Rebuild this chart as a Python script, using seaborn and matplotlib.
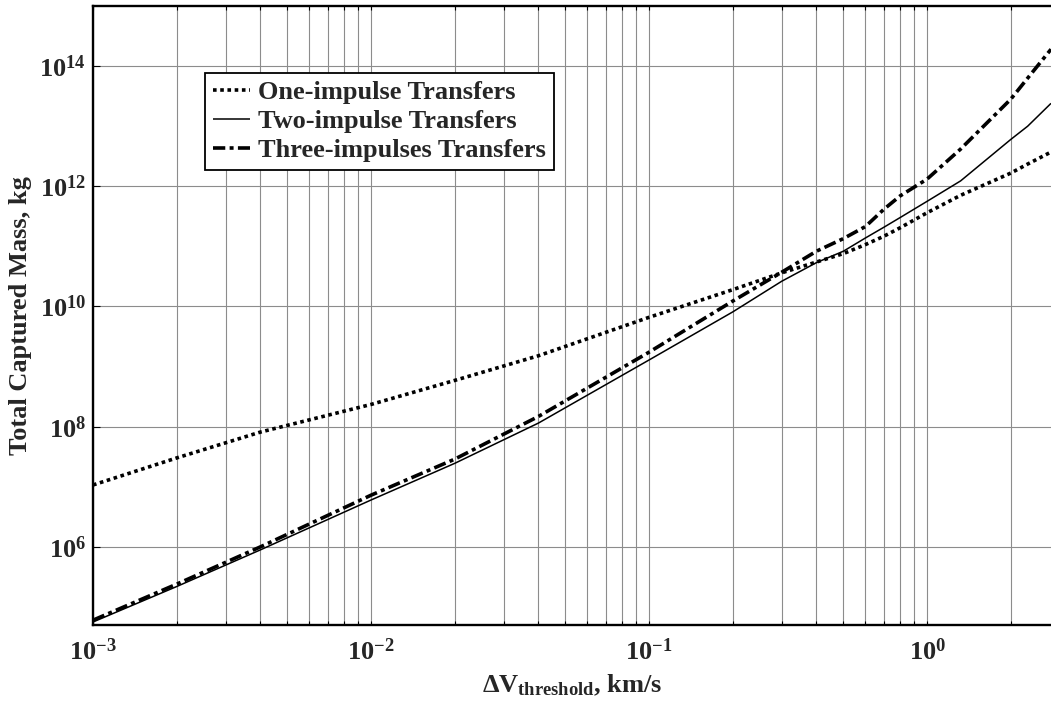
import numpy as np
import pandas as pd
import matplotlib
matplotlib.use("Agg")
import matplotlib.pyplot as plt
import seaborn as sns
from matplotlib.ticker import FixedLocator, NullLocator, NullFormatter

# ---- data (log10 of mass in kg) ----
dv = [0.001, 0.002, 0.004, 0.01, 0.02, 0.04, 0.1, 0.2, 0.3, 0.4, 0.5, 0.6,
      0.7, 0.8, 1.0, 1.32, 2.0, 2.3, 2.79]
one_impulse_log = [7.03, 7.48, 7.91, 8.37, 8.77, 9.18, 9.82, 10.28, 10.56, 10.74,
                   10.88, 11.03, 11.17, 11.31, 11.56, 11.85, 12.22, 12.37, 12.57]
two_impulse_log = [4.75, 5.34, 5.95, 6.78, 7.39, 8.06, 9.11, 9.91, 10.42, 10.73,
                   10.92, 11.14, 11.32, 11.48, 11.75, 12.09, 12.78, 13.00, 13.38]
three_impulse_log = [4.78, 5.38, 6.00, 6.86, 7.46, 8.17, 9.24, 10.09, 10.57, 10.92,
                     11.13, 11.33, 11.62, 11.84, 12.12, 12.62, 13.45, 13.80, 14.28]
series_names = ["One-impulse Transfers", "Two-impulse Transfers",
                "Three-impulses Transfers"]
x_tick_values = [1e-3, 1e-2, 1e-1, 1e0]
x_tick_labels = [r"$10^{-3}$", r"$10^{-2}$", r"$10^{-1}$", r"$10^{0}$"]
y_tick_values = [1e6, 1e8, 1e10, 1e12, 1e14]
y_tick_labels = [r"$10^{6}$", r"$10^{8}$", r"$10^{10}$", r"$10^{12}$", r"$10^{14}$"]
x_label = r"$\Delta$V$_{\mathrm{threshold}}$, km/s"
y_label = "Total Captured Mass, kg"

sns.set_theme(style="white")
plt.rcParams["font.family"] = ["Liberation Serif", "DejaVu Serif"]
plt.rcParams["font.weight"] = "bold"
plt.rcParams["mathtext.fontset"] = "custom"
plt.rcParams["mathtext.rm"] = "Liberation Serif:bold"
plt.rcParams["mathtext.it"] = "Liberation Serif:bold"
plt.rcParams["mathtext.bf"] = "Liberation Serif:bold"

fig = plt.figure(figsize=(10.51, 7.04), dpi=100)
ax = fig.add_axes([93 / 1051, 1 - 625 / 704, 1 - 93 / 1051, (625 - 6) / 704])

df = pd.DataFrame({
    "dv": dv * 3,
    "mass": np.power(10.0, one_impulse_log + two_impulse_log + three_impulse_log),
    "series": sum([[n] * len(dv) for n in series_names], []),
})

styles = {
    series_names[0]: dict(linestyle=(0, (1, 1)), linewidth=2.6),
    series_names[1]: dict(linestyle="-", linewidth=1.1),
    series_names[2]: dict(linestyle=(0, (3.4, 1.2, 1.1, 1.2)), linewidth=2.6),
}
handles = []
for name in series_names:
    sub = df[df["series"] == name]
    sns.lineplot(data=sub, x="dv", y="mass", ax=ax, color="black",
                 estimator=None, sort=True, legend=False, **styles[name])
    ln = ax.lines[-1]
    ln.set_dash_capstyle("butt")
    ln.set_solid_capstyle("butt")
    ln.set_label(name)
    handles.append(ln)

ax.set_xscale("log")
ax.set_yscale("log")
ax.set_xlim(1e-3, 2.79)
ax.set_ylim(10 ** 4.7, 1e15)

ax.xaxis.set_major_locator(FixedLocator(x_tick_values))
ax.set_xticklabels(x_tick_labels)
minor_x = [m * 10.0 ** e for e in range(-3, 1) for m in range(2, 10)]
ax.xaxis.set_minor_locator(FixedLocator(minor_x))
ax.xaxis.set_minor_formatter(NullFormatter())
ax.yaxis.set_major_locator(FixedLocator(y_tick_values))
ax.set_yticklabels(y_tick_labels)
ax.yaxis.set_minor_locator(NullLocator())

ax.grid(True, which="both", axis="x", color="#8c8c8c", linewidth=0.8)
ax.grid(True, which="major", axis="y", color="#8c8c8c", linewidth=0.8)
ax.set_axisbelow(True)

ax.tick_params(axis="x", which="both", direction="in", top=True, bottom=True,
               length=3, width=0.8, color="black", labelsize=19, pad=10)
ax.tick_params(axis="y", which="major", direction="in", left=True, right=False,
               length=5, width=0.8, color="black", labelsize=19, pad=5)

for side in ["left", "bottom", "top"]:
    ax.spines[side].set_visible(True)
    ax.spines[side].set_color("black")
    ax.spines[side].set_linewidth(1.7)
ax.spines["right"].set_visible(False)

ax.set_xlabel(x_label, fontsize=19, fontweight="bold", labelpad=5)
ax.set_ylabel(y_label, fontsize=19, fontweight="bold", labelpad=5)

leg = ax.legend(handles=handles, loc="upper left",
                bbox_to_anchor=((205 - 93) / (1051 - 93), (625 - 73) / 619),
                borderaxespad=0, fancybox=False, framealpha=1, edgecolor="black",
                prop={"family": "Liberation Serif", "weight": "bold", "size": 19},
                handlelength=1.4, handletextpad=0.3, labelspacing=0.2,
                borderpad=0.3)
leg.get_frame().set_linewidth(1.3)

fig.savefig("out.png", dpi=100)
